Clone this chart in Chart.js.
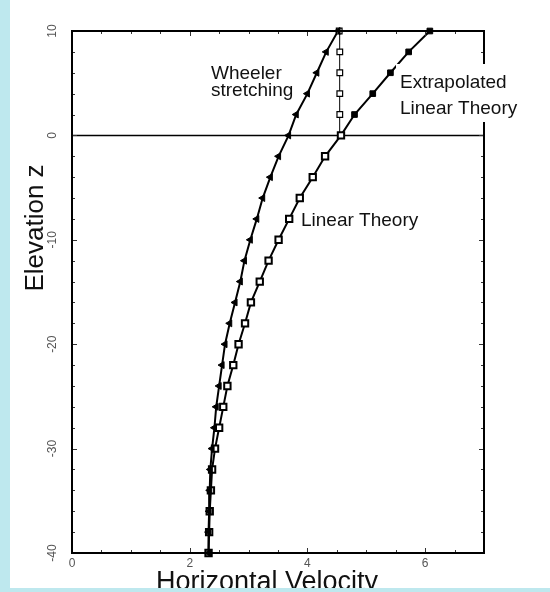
<!DOCTYPE html>
<html><head><meta charset="utf-8">
<script src="https://cdn.jsdelivr.net/npm/chart.js@4.4.1/dist/chart.umd.min.js"></script>
<style>html,body{margin:0;padding:0;background:#fff;overflow:hidden}canvas{display:block}</style>
</head><body>
<canvas id="c" width="550" height="592"></canvas>
<script>
// ---- data ----
const elevWheeler = [10, 8, 6, 4, 2, 0, -2, -4, -6, -8, -10, -12, -14, -16, -18, -20, -22, -24, -26, -28, -30, -32, -34, -36, -38, -40];
const velWheeler  = [4.52, 4.32, 4.16, 4.00, 3.81, 3.68, 3.51, 3.37, 3.24, 3.14, 3.03, 2.93, 2.86, 2.77, 2.68, 2.60, 2.55, 2.50, 2.45, 2.42, 2.38, 2.35, 2.34, 2.33, 2.32, 2.32];

const elevLinear = [0, -2, -4, -6, -8, -10, -12, -14, -16, -18, -20, -22, -24, -26, -28, -30, -32, -34, -36, -38, -40];
const velLinear  = [4.57, 4.30, 4.09, 3.87, 3.69, 3.51, 3.34, 3.19, 3.04, 2.94, 2.83, 2.74, 2.64, 2.57, 2.50, 2.43, 2.38, 2.36, 2.34, 2.33, 2.32];

const elevExtrap = [0, 2, 4, 6, 8, 10];
const velExtrap  = [4.57, 4.80, 5.11, 5.41, 5.72, 6.08];

const elevConst = [0, 2, 4, 6, 8, 10];
const velConst  = [4.55, 4.55, 4.55, 4.55, 4.55, 4.54];

const xTickLabels = ['0', '2', '4', '6'];
const yTickLabels = ['10', '0', '-10', '-20', '-30', '-40'];
const xTitle = 'Horizontal Velocity';
const yTitle = 'Elevation z';
const labelWheeler = ['Wheeler', 'stretching'];
const labelExtrap = ['Extrapolated', 'Linear Theory'];
const labelLinear = 'Linear Theory';

const pts = (ys, xs) => ys.map((y, i) => ({x: xs[i], y: y}));

const deco = {
  id: 'deco',
  beforeDraw(chart) {
    const ctx = chart.ctx;
    ctx.save(); ctx.fillStyle = '#fff'; ctx.fillRect(0, 0, chart.width, chart.height); ctx.restore();
  },
  beforeDatasetsDraw(chart) {
    const ctx = chart.ctx, a = chart.chartArea, ys = chart.scales.y;
    ctx.save();
    ctx.strokeStyle = '#000'; ctx.lineWidth = 1.5;
    const y0 = Math.round(ys.getPixelForValue(0)) + 0.5;
    ctx.beginPath(); ctx.moveTo(a.left, y0); ctx.lineTo(a.right, y0); ctx.stroke();
    ctx.restore();
  },
  afterDraw(chart) {
    const ctx = chart.ctx, a = chart.chartArea, xs = chart.scales.x, ys = chart.scales.y;
    ctx.save();
    // inner ticks
    ctx.strokeStyle = '#333'; ctx.lineWidth = 1;
    for (let v = 0.5; v < 7; v += 0.5) {
      const px = Math.round(xs.getPixelForValue(v)) + 0.5;
      const len = (v % 2 === 0) ? 5 : 3;
      ctx.beginPath(); ctx.moveTo(px, a.bottom); ctx.lineTo(px, a.bottom - len);
      ctx.moveTo(px, a.top); ctx.lineTo(px, a.top + len); ctx.stroke();
    }
    for (let v = -38; v < 10; v += 2) {
      const py = Math.round(ys.getPixelForValue(v)) + 0.5;
      const len = (v % 10 === 0) ? 5 : 3;
      ctx.beginPath(); ctx.moveTo(a.left, py); ctx.lineTo(a.left + len, py);
      ctx.moveTo(a.right, py); ctx.lineTo(a.right - len, py); ctx.stroke();
    }
    // frame
    ctx.strokeStyle = '#000'; ctx.lineWidth = 2;
    ctx.strokeRect(a.left, a.top, a.right - a.left, a.bottom - a.top);

    // tick labels
    ctx.fillStyle = '#555';
    ctx.font = '12px "Liberation Sans", Arial, sans-serif';
    ctx.textAlign = 'center'; ctx.textBaseline = 'middle';
    xTickLabels.forEach(t => {
      ctx.fillText(t, xs.getPixelForValue(parseFloat(t)), a.bottom + 11);
    });
    yTickLabels.forEach(t => {
      ctx.save();
      ctx.translate(a.left - 19, ys.getPixelForValue(parseFloat(t)));
      ctx.rotate(-Math.PI / 2);
      ctx.fillText(t, 0, 0);
      ctx.restore();
    });

    // axis titles
    ctx.fillStyle = '#111';
    ctx.font = '27px "Liberation Sans", Arial, sans-serif';
    ctx.textAlign = 'left'; ctx.textBaseline = 'alphabetic';
    ctx.fillText(xTitle, 156, 590);
    ctx.save();
    ctx.font = '26px "Liberation Sans", Arial, sans-serif';
    ctx.translate(43, 228); ctx.rotate(-Math.PI / 2);
    ctx.textAlign = 'center';
    ctx.fillText(yTitle, 0, 0);
    ctx.restore();

    // annotations
    ctx.font = '19px "Liberation Sans", Arial, sans-serif';
    ctx.fillStyle = '#111';
    ctx.textAlign = 'left';
    ctx.fillText(labelWheeler[0], 211, 79);
    ctx.fillText(labelWheeler[1], 211, 96);
    ctx.fillStyle = '#fff';
    ctx.fillRect(396, 64, 126, 58);
    ctx.fillStyle = '#111';
    ctx.fillText(labelExtrap[0], 400, 88);
    ctx.fillText(labelExtrap[1], 400, 114);
    ctx.fillText(labelLinear, 301, 226);

    // light blue strips
    ctx.fillStyle = 'rgb(190,232,238)';
    ctx.fillRect(0, 0, 10, chart.height);
    ctx.fillRect(0, 588, chart.width, chart.height - 588);
    ctx.restore();
  }
};

new Chart(document.getElementById('c'), {
  type: 'scatter',
  data: {
    datasets: [
      {
        label: 'Wheeler stretching',
        data: pts(elevWheeler, velWheeler),
        showLine: true, borderColor: '#000', borderWidth: 2,
        pointStyle: 'triangle', rotation: -90, pointRadius: 4,
        pointBackgroundColor: '#000', pointBorderColor: '#000', pointBorderWidth: 1,
        clip: false
      },
      {
        label: 'Linear Theory',
        data: pts(elevLinear, velLinear),
        showLine: true, borderColor: '#000', borderWidth: 2,
        pointStyle: 'rect', pointRadius: 4.5,
        pointBackgroundColor: '#fff', pointBorderColor: '#000', pointBorderWidth: 2,
        clip: false
      },
      {
        label: 'Extrapolated Linear Theory',
        data: pts(elevExtrap, velExtrap),
        showLine: true, borderColor: '#000', borderWidth: 2,
        pointStyle: 'rect', pointRadius: [0, 4, 4, 4, 4, 4],
        pointBackgroundColor: '#000', pointBorderColor: '#000', pointBorderWidth: 1,
        clip: false
      },
      {
        label: 'Constant',
        data: pts(elevConst, velConst),
        showLine: true, borderColor: '#000', borderWidth: 1,
        pointStyle: 'rect', pointRadius: [0, 4, 4, 4, 4, 4],
        pointBackgroundColor: '#fff', pointBorderColor: '#000', pointBorderWidth: 1.2,
        clip: false
      }
    ]
  },
  options: {
    responsive: false,
    devicePixelRatio: 1,
    animation: false,
    events: [],
    layout: { padding: { left: 72, right: 66, top: 31, bottom: 39 } },
    scales: {
      x: { type: 'linear', min: 0, max: 7, display: false },
      y: { type: 'linear', min: -40, max: 10, display: false }
    },
    plugins: { legend: { display: false }, tooltip: { enabled: false } }
  },
  plugins: [deco]
});
</script>
</body></html>
